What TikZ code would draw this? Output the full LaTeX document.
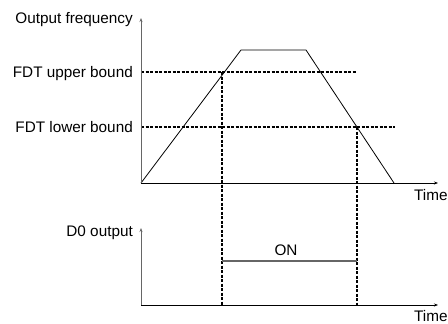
\documentclass[tikz,border=0pt]{standalone}
\usepackage{fontspec}
\setmainfont{Liberation Sans}
\usetikzlibrary{arrows.meta}
\begin{document}
\begin{tikzpicture}[x=1pt,y=-1pt,
  lbl/.style={font=\fontsize{15.3}{15.3}\selectfont, inner sep=0pt},
  vaxis/.style={draw=gray!80!black, line width=1pt, -{Stealth[length=4pt,width=3pt]}},
  haxis/.style={draw=black, line width=1pt, -{Stealth[length=4pt,width=3pt]}},
  curve/.style={draw=black, line width=0.8pt},
  guide/.style={draw=black, line width=1.5pt, dash pattern=on 3pt off 1.5pt},
  onl/.style={draw=gray!80!black, line width=1.2pt}]
\useasboundingbox (0,0) rectangle (448,324);
% top graph
\coordinate (o1) at (141,183);
\coordinate (yt1) at (141,18);
\coordinate (xt1) at (438,183);
\coordinate (p1) at (241,50);
\coordinate (p2) at (306,50);
\coordinate (p3) at (394,183);
\coordinate (u0) at (141,72);
\coordinate (u1) at (357,72);
\coordinate (l0) at (141,127);
\coordinate (l1) at (395,127);
\coordinate (ua) at (222,72);
\coordinate (lb) at (357,127);
% bottom graph
\coordinate (o2) at (141,305);
\coordinate (yt2) at (141,228);
\coordinate (xt2) at (438,305);
\coordinate (ua2) at (222,305);
\coordinate (lb2) at (357,305);
\coordinate (on0) at (222,261);
\coordinate (on1) at (357,261);

\draw[guide] (u0) -- (u1);
\draw[guide] (l0) -- (l1);
\draw[guide] (ua) -- (ua2);
\draw[guide] (lb) -- (lb2);
\draw[curve] (o1) -- (p1) -- (p2) -- (p3);
\draw[haxis] (o1) -- (xt1);
\draw[vaxis] (o1) -- (yt1);
\draw[haxis] (o2) -- (xt2);
\draw[vaxis] (o2) -- (yt2);
\draw[onl] (on0) -- (on1);

\node[lbl, anchor=base east] (tof) at (133,23.3) {Output frequency};
\node[lbl, anchor=base east] (tub) at (133,77.5) {FDT upper bound};
\node[lbl, anchor=base east] (tlb) at (133,132) {FDT lower bound};
\node[lbl, anchor=base east] (tdo) at (133,236) {D0 output};
\node[lbl, anchor=base west] (tt1) at (414,200.5) {Time};
\node[lbl, anchor=base west] (tt2) at (414,321.5) {Time};
\node[lbl, anchor=base] (ton) at (286,255) {ON};
\end{tikzpicture}
\end{document}
